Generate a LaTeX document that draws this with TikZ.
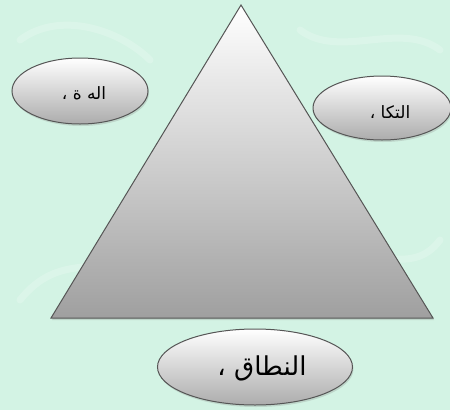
\documentclass[tikz,border=0pt]{standalone}
\usepackage{fontspec}
\usetikzlibrary{shapes.geometric,shadows}
\TeXXeTstate=1
\newfontfamily\arabicfont[Script=Arabic]{DejaVu Sans}
\definecolor{bgmint}{HTML}{D3F3E4}
\definecolor{edgegray}{HTML}{555555}
\tikzset{
  oval/.style={ellipse, draw=edgegray, line width=1pt, top color=white, bottom color=gray!65,
    drop shadow={shadow xshift=1pt, shadow yshift=-2pt, opacity=0.25}},
  lbl/.style={font=\arabicfont, text=black}
}
\begin{document}
\begin{tikzpicture}[x=1pt,y=-1pt]
\fill[bgmint] (0,0) rectangle (450,410);
\useasboundingbox (0,0) rectangle (450,410);
% faint watermark strokes
\begin{scope}[white, opacity=0.2, line width=7pt, line cap=round]
\draw (20,40) .. controls (60,10) and (120,30) .. (150,60);
\draw (300,30) .. controls (340,60) and (400,20) .. (440,50);
\draw (20,300) .. controls (60,250) and (100,280) .. (130,250);
\draw (330,270) .. controls (370,240) and (410,280) .. (440,240);
\end{scope}
% triangle
\coordinate (apex) at (241,5);
\coordinate (bl) at (51,318);
\coordinate (br) at (433,318);
\draw[edgegray, line width=1pt, top color=white, bottom color=gray!75,
  drop shadow={shadow xshift=1pt, shadow yshift=-2pt, opacity=0.25}]
  (apex) -- (br) -- (bl) -- cycle;
% ellipses
\node[oval, minimum width=136pt, minimum height=66pt] (left) at (80,91) {};
\node[oval, minimum width=138pt, minimum height=64pt] (right) at (382,108) {};
\node[oval, minimum width=195pt, minimum height=76pt] (bottom) at (255,367) {};
\node[lbl, font=\arabicfont\fontsize{17}{20}\selectfont] (lt) at (84,93) {\beginR اله ة ،\endR};
\node[lbl, font=\arabicfont\fontsize{17}{20}\selectfont] (rt) at (390,112) {\beginR التكا ،\endR};
\node[lbl, font=\arabicfont\fontsize{26}{30}\selectfont] (bt) at (262,368) {\beginR النطاق ،\endR};
\end{tikzpicture}
\end{document}
